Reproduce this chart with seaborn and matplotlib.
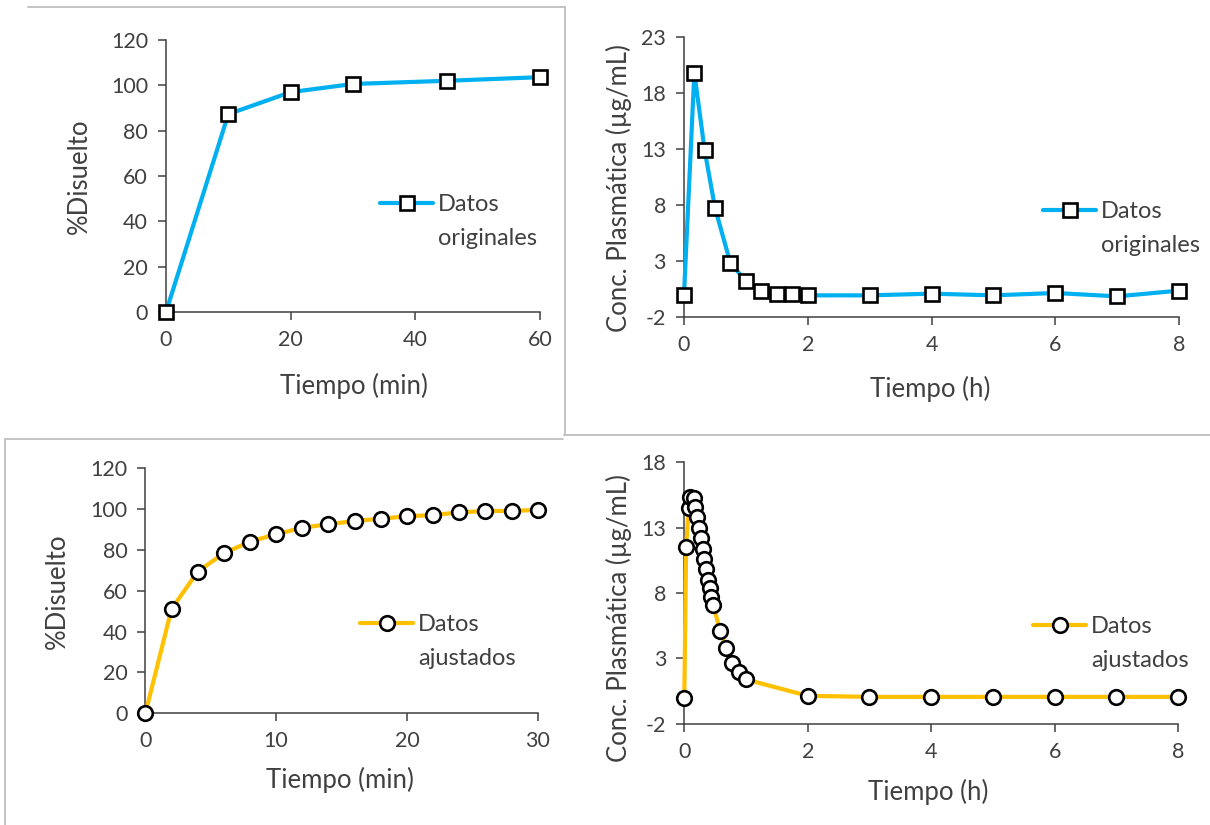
import numpy as np
import pandas as pd
import matplotlib
matplotlib.use("Agg")
import matplotlib.pyplot as plt
from matplotlib.lines import Line2D
import seaborn as sns

# ---------------- data ----------------
# Top-left: dissolution, original data
diss_orig_t = [0, 10, 20, 30, 45, 60]
diss_orig_y = [0, 87.3, 97.0, 100.6, 102.0, 103.6]

# Top-right: plasma concentration, original data
plasma_orig_t = [0, 0.167, 0.333, 0.5, 0.75, 1.0, 1.25, 1.5, 1.75, 2, 3, 4, 5, 6, 7, 8]
plasma_orig_y = [-0.03, 19.78, 12.89, 7.75, 2.8, 1.22, 0.35, 0.03, 0.05, -0.07,
                 -0.07, 0.08, -0.07, 0.14, -0.16, 0.35]

# Bottom-left: dissolution, fitted data
diss_fit_t = [0, 2, 4, 6, 8, 10, 12, 14, 16, 18, 20, 22, 24, 26, 28, 30]
diss_fit_y = [0, 51.1, 69.4, 78.4, 84.1, 87.7, 90.9, 92.6, 94.2, 95.3, 96.5,
              97.1, 98.4, 99.1, 99.1, 99.6]

# Bottom-right: plasma concentration, fitted data
plasma_fit_t = [0, 0.03, 0.07, 0.1, 0.15, 0.18, 0.21, 0.24, 0.27, 0.3, 0.32, 0.35,
                0.38, 0.41, 0.44, 0.47, 0.58, 0.68, 0.78, 0.89, 1.0,
                2, 3, 4, 5, 6, 7, 8]
plasma_fit_y = [0.0, 11.54, 14.48, 15.32, 15.24, 14.55, 13.79, 12.99, 12.18, 11.36,
                10.6, 9.81, 9.04, 8.4, 7.71, 7.08, 5.11, 3.77, 2.69, 1.97, 1.39,
                0.14, 0.06, 0.06, 0.06, 0.06, 0.06, 0.06]

xlab_min = "Tiempo (min)"
xlab_h = "Tiempo (h)"
ylab_diss = "%Disuelto"
ylab_conc = "Conc. Plasmática (µg/mL)"
leg1 = "Datos"
leg2_orig = "originales"
leg2_fit = "ajustados"

BLUE = "#00B0F0"
GOLD = "#FFC000"
TXT = "#404040"

sns.set_theme(style="ticks")
plt.rcParams["font.family"] = ["Lato", "DejaVu Sans"]
plt.rcParams["axes.unicode_minus"] = False

W, H = 1210, 825
fig = plt.figure(figsize=(W / 100, H / 100), dpi=100)
fig.patch.set_facecolor("white")


def ax_at(l, r, t, b):
    return fig.add_axes([l / W, 1 - b / H, (r - l) / W, (b - t) / H])


def style(ax, xlim, ylim, xticks, yticks, xlabel, ylabel, ylc, xlc):
    ax.set_xlim(*xlim)
    ax.set_ylim(*ylim)
    ax.set_xticks(xticks)
    ax.set_yticks(yticks)
    for s in ["top", "right"]:
        ax.spines[s].set_visible(False)
    for s in ["left", "bottom"]:
        ax.spines[s].set_color("#404040")
        ax.spines[s].set_linewidth(1.1)
    ax.tick_params(axis="both", direction="out", length=6, width=1.1,
                   colors="#404040", labelsize=15.5, labelcolor=TXT, pad=7)
    ax.set_xlabel(xlabel, fontsize=18.5, color=TXT)
    ax.set_ylabel(ylabel, fontsize=18.5, color=TXT)
    ax.yaxis.set_label_coords(*ylc)
    ax.xaxis.set_label_coords(*xlc)
    ax.xaxis.label.set_va("top")
    ax.set_facecolor("white")


def draw(ax, t, y, color, marker):
    df = pd.DataFrame({"t": t, "y": y})
    sns.lineplot(data=df, x="t", y="y", ax=ax, color=color, linewidth=3.0,
                 marker=marker, markersize=10.5, markerfacecolor="white",
                 markeredgecolor="black", markeredgewidth=1.9,
                 clip_on=False, zorder=5, sort=False, errorbar=None)


def legend(ax, color, marker, second, x, y):
    h1 = Line2D([], [], color=color, linewidth=3.0, marker=marker,
                markersize=10.5, markerfacecolor="white",
                markeredgecolor="black", markeredgewidth=1.9)
    h2 = Line2D([], [], color="none")
    lg = ax.legend([h1, h2], [leg1, second], loc="upper left",
                   bbox_to_anchor=(x / W, 1 - y / H),
                   bbox_transform=fig.transFigure, frameon=False,
                   fontsize=17, handlelength=2.25, handletextpad=0.22,
                   labelspacing=0.55, borderpad=0, borderaxespad=0)
    for txt in lg.get_texts():
        txt.set_color(TXT)


# Top-left
ax1 = ax_at(166, 540, 40, 312)
draw(ax1, diss_orig_t, diss_orig_y, BLUE, "s")
style(ax1, (0, 60), (0, 120), [0, 20, 40, 60], np.arange(0, 121, 20),
      xlab_min, ylab_diss, (-0.198, 0.5), (0.503, -0.225))
legend(ax1, BLUE, "s", leg2_orig, 380, 194)

# Top-right
ax2 = ax_at(684, 1179, 36.6, 317)
draw(ax2, plasma_orig_t, plasma_orig_y, BLUE, "s")
style(ax2, (0, 8), (-2, 23), [0, 2, 4, 6, 8], [-2, 3, 8, 13, 18, 23],
      xlab_h, ylab_conc, (-0.105, 0.46), (0.497, -0.21))
legend(ax2, BLUE, "s", leg2_orig, 1043, 201)

# Bottom-left
ax3 = ax_at(145.4, 537.7, 468.3, 713.3)
draw(ax3, diss_fit_t, diss_fit_y, GOLD, "o")
style(ax3, (0, 30), (0, 120), [0, 10, 20, 30], np.arange(0, 121, 20),
      xlab_min, ylab_diss, (-0.192, 0.5), (0.496, -0.22))
legend(ax3, GOLD, "o", leg2_fit, 360, 614)

# Bottom-right
ax4 = ax_at(684.3, 1178, 462.4, 723.8)
draw(ax4, plasma_fit_t, plasma_fit_y, GOLD, "o")
style(ax4, (0, 8), (-2, 18), [0, 2, 4, 6, 8], [-2, 3, 8, 13, 18],
      xlab_h, ylab_conc, (-0.106, 0.405), (0.495, -0.21))
legend(ax4, GOLD, "o", leg2_fit, 1033, 616)

# panel borders (pasted chart frames)
BC = "#BFBFBF"


def fline(x0, y0, x1, y1):
    fig.add_artist(Line2D([x0 / W, x1 / W], [1 - y0 / H, 1 - y1 / H],
                          transform=fig.transFigure, color=BC, linewidth=1.3))


fline(28, 7, 565.3, 7)
fline(565.3, 7, 565.3, 435.3)
fline(564, 435.3, 1210, 435.3)
fline(5.3, 439.3, 563, 439.3)
fline(5.3, 439.3, 5.3, 825)

fig.savefig("out.png", dpi=100, facecolor="white")
